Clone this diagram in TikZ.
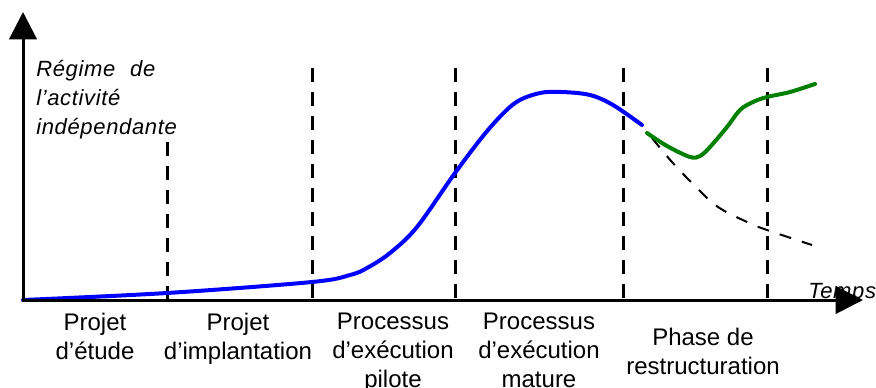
\documentclass[tikz,border=0pt]{standalone}
\usepackage{fontspec}
\setmainfont{Liberation Sans}
\newfontfamily\spacedfont[LetterSpace=3]{Liberation Sans}
\usetikzlibrary{arrows.meta}
\definecolor{cgreen}{RGB}{0,128,0}
\definecolor{cblue}{RGB}{0,0,255}
\tikzset{
  axis/.style={line width=2.25pt, -{Triangle[length=20.5pt, width=20.5pt]}},
  phaseline/.style={line width=2.25pt, dash pattern=on 10.5pt off 7.5pt},
  lbl/.style={font=\fontsize{18}{21.75}\selectfont, align=center, inner sep=0pt},
  itlbl/.style={font=\spacedfont\itshape\fontsize{16.5}{21.75}\selectfont, align=left, inner sep=0pt},
  bluecurve/.style={cblue, line width=3pt, line cap=round},
  greencurve/.style={cgreen, line width=3pt, line cap=round},
  declinecurve/.style={black, line width=1.5pt, dash pattern=on 9pt off 8.5pt}
}
\begin{document}
\begin{tikzpicture}[x=0.75pt, y=-0.75pt]
\useasboundingbox (0,0) rectangle (876,387);
% coordinates
\coordinate (O) at (23,300);
\coordinate (ytip) at (23,12);
\coordinate (xtip) at (863,300);
\coordinate (v1t) at (167,142); \coordinate (v1b) at (167,300);
\coordinate (v2t) at (312,68);  \coordinate (v2b) at (312,300);
\coordinate (v3t) at (455,68);  \coordinate (v3b) at (455,300);
\coordinate (v4t) at (623,68);  \coordinate (v4b) at (623,300);
\coordinate (v5t) at (767,68);  \coordinate (v5b) at (767,300);
% phase lines
\draw[phaseline] (v1t) -- (v1b);
\draw[phaseline] (v2t) -- (v2b);
\draw[phaseline] (v3t) -- (v3b);
\draw[phaseline] (v4t) -- (v4b);
\draw[phaseline] (v5t) -- (v5b);
% labels
\node[itlbl, anchor=north west] (ylab) at (36,60) {Régime\hspace{6pt} de\\l’activité\\indépendante};
\node[itlbl, anchor=base west] (xlab) at (808,298) {Temps};
\node[lbl, anchor=north] (p1) at (95,313) {Projet\\d’étude};
\node[lbl, anchor=north] (p2) at (238,313) {Projet\\d’implantation};
\node[lbl, anchor=north] (p3) at (393,313) {Processus\\d’exécution\\pilote};
\node[lbl, anchor=north] (p4) at (539,313) {Processus\\d’exécution\\mature};
\node[lbl, anchor=north] (p5) at (703,328) {Phase de\\restructuration};
% curves
\draw[declinecurve] plot[smooth, tension=0.6] coordinates {(652,138) (672,162) (697,188) (718,207) (747,222) (767,230) (812,245)};
\draw[bluecurve] plot[smooth, tension=0.55] coordinates {(23,300) (167,293) (312,282) (350,275) (367,268) (390,253) (417,227) (455,173) (488,130) (515,103) (540,93) (562,92) (590,95) (613,105) (642,125)};
\draw[greencurve] plot[smooth, tension=0.55] coordinates {(647,133) (667,146) (690,157) (700,156) (710,147) (727,127) (740,110) (753,102) (767,97) (790,92) (815,84)};
% axes
\draw[axis] ([yshift=-1.125pt]O) -- (ytip);
\draw[axis] ([xshift=-1.125pt]O) -- (xtip);
\end{tikzpicture}
\end{document}
